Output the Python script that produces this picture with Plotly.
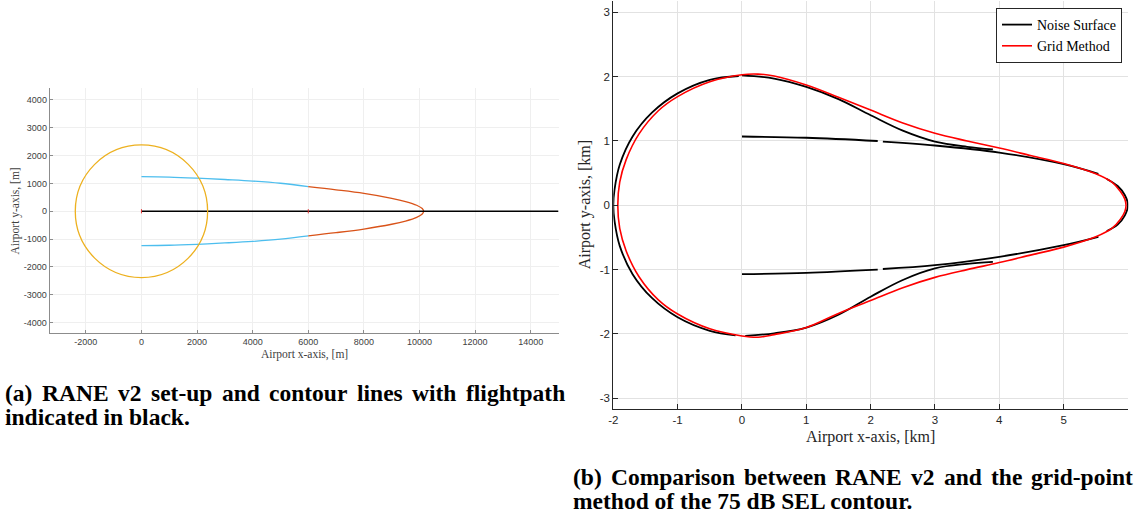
import plotly.graph_objects as go

# ---------------- panel (a): RANE v2 set-up, metres ----------------
CIRCLE_CENTER_A = [0, 0]
CIRCLE_RADIUS_A = 2380

BLUE_UP_X = [0, 1000, 2000, 3000, 4000, 5000, 6000]
BLUE_UP_Y = [1240, 1228, 1190, 1140, 1085, 1005, 885]
BLUE_LO_X = [0, 1000, 2000, 3000, 4000, 5000, 6000]
BLUE_LO_Y = [-1230, -1220, -1185, -1138, -1082, -1002, -882]

ORANGE_X = [6000, 7000, 8000, 9000, 9500, 9900, 10100, 10150,
            10100, 9900, 9500, 9000, 8000, 7000, 6000]
ORANGE_Y = [885, 771, 642, 466, 350, 217, 97, 0,
            -97, -217, -350, -466, -638, -768, -882]

FLIGHT_X = [0, 15000]
FLIGHT_Y = [0, 0]

MARK_X = [0, 6000]
MARK_Y = [0, 0]

XTICKS_A = [-2000, 0, 2000, 4000, 6000, 8000, 10000, 12000, 14000]
XTICK_TEXT_A = ["-2000", "0", "2000", "4000", "6000", "8000", "10000", "12000", "14000"]
YTICKS_A = [-4000, -3000, -2000, -1000, 0, 1000, 2000, 3000, 4000]
YTICK_TEXT_A = ["-4000", "-3000", "-2000", "-1000", "0", "1000", "2000", "3000", "4000"]

# ---------------- panel (b): 75 dB SEL contour, km ----------------
NS_LEFT_X = [-0.05, -0.5, -1.0, -1.4, -1.7, -1.9, -1.98, -2.0, -1.98, -1.9, -1.7, -1.4, -1.0, -0.5, -0.1]
NS_LEFT_Y = [2.01, 1.95, 1.74, 1.44, 1.07, 0.63, 0.25, 0.0, -0.25, -0.63, -1.07, -1.44, -1.74, -1.95, -2.02]

NS_UP_OUT_X = [0.0, 0.5, 1.0, 1.5, 2.0, 2.5, 3.0, 3.5, 3.9]
NS_UP_OUT_Y = [2.02, 1.97, 1.84, 1.65, 1.40, 1.16, 0.99, 0.91, 0.87]

NS_UP_IN1_X = [0.0, 1.0, 2.11]
NS_UP_IN1_Y = [1.07, 1.05, 1.0]
NS_UP_IN2_X = [2.19, 3.0, 4.0, 5.0, 5.54]
NS_UP_IN2_Y = [0.99, 0.93, 0.82, 0.64, 0.49]

NS_TIP_X = [5.67, 5.84, 5.95, 6.0, 5.95, 5.84, 5.67]
NS_TIP_Y = [0.41, 0.30, 0.16, 0.0, -0.16, -0.30, -0.40]

NS_LO_IN1_X = [0.0, 1.0, 2.11]
NS_LO_IN1_Y = [-1.07, -1.05, -1.0]
NS_LO_IN2_X = [2.19, 3.0, 4.0, 5.0, 5.54]
NS_LO_IN2_Y = [-0.99, -0.93, -0.80, -0.62, -0.49]

NS_LO_OUT_X = [0.05, 0.5, 1.0, 1.5, 2.0, 2.5, 3.0, 3.5, 3.9]
NS_LO_OUT_Y = [-2.03, -1.99, -1.90, -1.70, -1.42, -1.16, -0.98, -0.91, -0.88]

GM_X = [5.97, 5.95, 5.88, 5.75, 5.5, 5.0, 4.5, 4.0, 3.5, 3.0, 2.5, 2.0, 1.5, 1.0, 0.5, 0.25, 0.0,
        -0.5, -1.0, -1.3, -1.6, -1.8, -1.9, -1.93, -1.9, -1.8, -1.6, -1.3, -1.0, -0.5,
        0.0, 0.25, 0.5, 1.0, 1.5, 2.0, 2.5, 3.0, 3.5, 4.0, 4.5, 5.0, 5.5, 5.75, 5.88, 5.95, 5.97]
GM_Y = [0.0, 0.10, 0.22, 0.36, 0.49, 0.65, 0.77, 0.89, 1.00, 1.12, 1.28, 1.48, 1.68, 1.87, 2.01, 2.04, 2.03,
        1.92, 1.69, 1.47, 1.11, 0.71, 0.36, 0.0, -0.36, -0.71, -1.11, -1.47, -1.69, -1.92,
        -2.03, -2.05, -2.01, -1.90, -1.68, -1.48, -1.28, -1.12, -1.00, -0.89, -0.77, -0.65, -0.49, -0.36, -0.22, -0.10, 0.0]

XTICKS_B = [-2, -1, 0, 1, 2, 3, 4, 5]
XTICK_TEXT_B = ["-2", "-1", "0", "1", "2", "3", "4", "5"]
YTICKS_B = [-3, -2, -1, 0, 1, 2, 3]
YTICK_TEXT_B = ["-3", "-2", "-1", "0", "1", "2", "3"]

CAP_A1 = ["(a)", "RANE", "v2", "set-up", "and", "contour", "lines", "with", "flightpath"]
CAP_A2 = "indicated in black."
CAP_B1 = ["(b)", "Comparison", "between", "RANE", "v2", "and", "the", "grid-point"]
CAP_B2 = "method of the 75 dB SEL contour."

# ---------------- helpers ----------------
W, H = 1136, 522


def px(x):
    return x / W


def py(y):
    return 1 - y / H


def joined(*segs):
    xs, ys = [], []
    for i, (sx, sy) in enumerate(segs):
        if i:
            xs.append(None)
            ys.append(None)
        xs += list(sx)
        ys += list(sy)
    return xs, ys


# Times-Bold advance widths (per 1000 em) used to justify caption lines
TB = {' ': 250, '(': 333, ')': 333, 'a': 500, 'b': 556, 'c': 444, 'd': 556, 'e': 444, 'f': 333,
      'g': 500, 'h': 556, 'i': 278, 'k': 556, 'l': 278, 'm': 833, 'n': 556, 'o': 500, 'p': 556,
      'r': 444, 's': 389, 't': 333, 'u': 556, 'v': 500, 'w': 722, 'x': 500, 'y': 500, '-': 333,
      '.': 250, '2': 500, '5': 500, '7': 500, 'A': 722, 'B': 667, 'C': 722, 'D': 722, 'E': 667,
      'L': 667, 'N': 722, 'R': 722, 'S': 556}
CAP_SIZE = 23.5


def word_w(w):
    return sum(TB.get(c, 500) for c in w) * CAP_SIZE / 1000.0


fig = go.Figure()

# panel (a)
bx, by = joined((BLUE_UP_X, BLUE_UP_Y), (BLUE_LO_X, BLUE_LO_Y))
fig.add_trace(go.Scatter(x=bx, y=by, mode="lines", line=dict(color="#4DBEEE", width=1.3, shape="spline"),
                         showlegend=False, xaxis="x", yaxis="y", hoverinfo="skip"))
fig.add_trace(go.Scatter(x=ORANGE_X, y=ORANGE_Y, mode="lines", line=dict(color="#D95319", width=1.3, shape="spline"),
                         showlegend=False, xaxis="x", yaxis="y", hoverinfo="skip"))
fig.add_trace(go.Scatter(x=FLIGHT_X, y=FLIGHT_Y, mode="lines", line=dict(color="black", width=1.3),
                         showlegend=False, xaxis="x", yaxis="y", hoverinfo="skip"))
fig.add_trace(go.Scatter(x=MARK_X, y=MARK_Y, mode="markers",
                         marker=dict(color="#E03030", size=3, symbol="line-ns-open",
                                     line=dict(width=1, color="#E03030")),
                         showlegend=False, xaxis="x", yaxis="y", hoverinfo="skip"))

# panel (b)
nx, ny = joined((NS_LEFT_X, NS_LEFT_Y), (NS_UP_OUT_X, NS_UP_OUT_Y), (NS_UP_IN1_X, NS_UP_IN1_Y),
                (NS_UP_IN2_X, NS_UP_IN2_Y), (NS_TIP_X, NS_TIP_Y), (NS_LO_IN1_X, NS_LO_IN1_Y),
                (NS_LO_IN2_X, NS_LO_IN2_Y), (NS_LO_OUT_X, NS_LO_OUT_Y))
fig.add_trace(go.Scatter(x=nx, y=ny, mode="lines", name="Noise Surface",
                         line=dict(color="black", width=1.8, shape="spline"),
                         xaxis="x2", yaxis="y2", connectgaps=False))
fig.add_trace(go.Scatter(x=GM_X, y=GM_Y, mode="lines", name="Grid Method",
                         line=dict(color="#FF0000", width=1.6, shape="spline"),
                         xaxis="x2", yaxis="y2"))

tickfont_a = dict(family="Liberation Sans, Arial", size=9, color="#404040")
tickfont_b = dict(family="Liberation Sans, Arial", size=11.5, color="#262626")

axis_a = dict(showline=True, linecolor="#8c8c8c", linewidth=1, ticks="inside", ticklen=3,
              tickcolor="#8c8c8c", showgrid=True, gridcolor="#efefef", gridwidth=1,
              zeroline=False, tickfont=tickfont_a, mirror=False, automargin=False)
axis_b = dict(showline=True, linecolor="#262626", linewidth=1, ticks="inside", ticklen=5,
              tickcolor="#262626", showgrid=True, gridcolor="#e2e2e2", gridwidth=1,
              zeroline=False, tickfont=tickfont_b, mirror=False, automargin=False)

fig.update_layout(
    width=W, height=H,
    margin=dict(l=0, r=0, t=0, b=0, pad=0, autoexpand=False),
    paper_bgcolor="white", plot_bgcolor="white",
    xaxis=dict(axis_a, domain=[px(49.7), px(558.5)], range=[-3300, 15000], anchor="y",
               tickvals=XTICKS_A, ticktext=XTICK_TEXT_A),
    yaxis=dict(axis_a, domain=[py(333), py(88)], range=[-4370, 4425], anchor="x",
               tickvals=YTICKS_A, ticktext=YTICK_TEXT_A),
    xaxis2=dict(axis_b, domain=[px(613.3), px(1128.3)], range=[-2, 6.005], anchor="y2",
                tickvals=XTICKS_B, ticktext=XTICK_TEXT_B),
    yaxis2=dict(axis_b, domain=[py(409), py(1)], range=[-3.166, 3.176], anchor="x2",
                tickvals=YTICKS_B, ticktext=YTICK_TEXT_B),
    showlegend=True,
    legend=dict(x=px(1122), y=py(8), xanchor="right", yanchor="top", bgcolor="white",
                bordercolor="#262626", borderwidth=1, tracegroupgap=0,
                font=dict(family="Liberation Serif, Times New Roman", size=14, color="black"),
                itemwidth=30),
    shapes=[dict(type="circle", xref="x", yref="y",
                 x0=CIRCLE_CENTER_A[0] - CIRCLE_RADIUS_A, x1=CIRCLE_CENTER_A[0] + CIRCLE_RADIUS_A,
                 y0=CIRCLE_CENTER_A[1] - CIRCLE_RADIUS_A, y1=CIRCLE_CENTER_A[1] + CIRCLE_RADIUS_A,
                 line=dict(color="#EDB120", width=1.3))],
)

serif = "Liberation Serif, Times New Roman, serif"
ann = []
# axis titles
ann.append(dict(text="Airport x-axis, [m]", x=px(304), y=py(354), xref="paper", yref="paper",
                xanchor="center", yanchor="middle", showarrow=False,
                font=dict(family=serif, size=11.5, color="#404040")))
ann.append(dict(text="Airport y-axis, [m]", x=px(15), y=py(211.5), xref="paper", yref="paper",
                xanchor="center", yanchor="middle", showarrow=False, textangle=-90,
                font=dict(family=serif, size=11.5, color="#404040")))
ann.append(dict(text="Airport x-axis, [km]", x=px(870.5), y=py(437), xref="paper", yref="paper",
                xanchor="center", yanchor="middle", showarrow=False,
                font=dict(family=serif, size=16, color="#262626")))
ann.append(dict(text="Airport y-axis, [km]", x=px(585), y=py(205.3), xref="paper", yref="paper",
                xanchor="center", yanchor="middle", showarrow=False, textangle=-90,
                font=dict(family=serif, size=16, color="#262626")))

capfont = dict(family=serif, size=CAP_SIZE, color="black")


def cap_line(words, x0, x1, ymid):
    widths = [word_w(w) for w in words]
    gap = (x1 - x0 - sum(widths)) / (len(words) - 1)
    x = x0
    for i, w in enumerate(words):
        if i == len(words) - 1:
            ann.append(dict(text="<b>%s</b>" % w, x=px(x1), y=py(ymid), xref="paper", yref="paper",
                            xanchor="right", yanchor="middle", showarrow=False, font=capfont,
                            borderpad=0, borderwidth=0))
        else:
            ann.append(dict(text="<b>%s</b>" % w, x=px(x), y=py(ymid), xref="paper", yref="paper",
                            xanchor="left", yanchor="middle", showarrow=False, font=capfont,
                            borderpad=0, borderwidth=0))
        x += widths[i] + gap


def cap_plain(text, x0, ymid):
    ann.append(dict(text="<b>%s</b>" % text, x=px(x0), y=py(ymid), xref="paper", yref="paper",
                    xanchor="left", yanchor="middle", showarrow=False, font=capfont,
                    borderpad=0, borderwidth=0))


cap_line(CAP_A1, 5, 565, 393)
cap_plain(CAP_A2, 5, 417)
cap_line(CAP_B1, 573, 1133, 477)
cap_plain(CAP_B2, 573, 501)

fig.update_layout(annotations=ann)
fig.write_html("out.html")
